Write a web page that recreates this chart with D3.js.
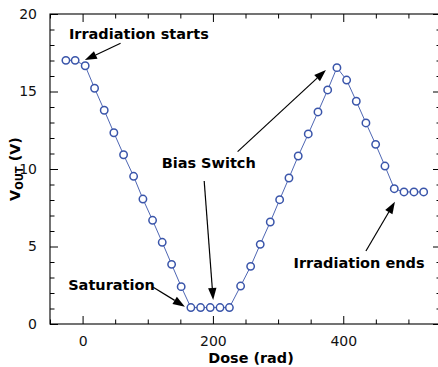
<!DOCTYPE html>
<html><head><meta charset="utf-8">
<script src="https://cdn.jsdelivr.net/npm/d3@7"></script>
<style>body{margin:0;background:#fff} svg{display:block}</style>
</head><body><svg id="c" width="438" height="367"></svg>
<script>
// ---- data ----
const doses = [-25.6, -11.4, 4.0, 18.4, 33.2, 48.0, 62.9, 78.3, 92.6, 107.4,
  122.2, 136.6, 151.3, 166.2, 181.1, 195.9, 210.9, 225.3, 242.5, 257.9,
  272.6, 288.0, 302.4, 316.7, 330.9, 346.3, 361.2, 376.1, 390.3, 405.2,
  420.0, 434.8, 449.7, 464.0, 478.3, 493.2, 508.5, 523.4];
const vout = [17.01, 17.01, 16.66, 15.21, 13.79, 12.34, 10.92, 9.53, 8.06, 6.69,
  5.27, 3.85, 2.41, 1.06, 1.06, 1.06, 1.06, 1.06, 2.45, 3.72,
  5.14, 6.58, 8.02, 9.42, 10.84, 12.26, 13.68, 15.10, 16.54, 15.74,
  14.37, 12.97, 11.59, 10.19, 8.73, 8.52, 8.52, 8.52];
const xMajorTicks = [0, 200, 400];
const xMinorTicks = [-50, 50, 100, 150, 250, 300, 350, 450, 500, 550];
const yMajorTicks = [0, 5, 10, 15, 20];
const yMinorTicks = [1,2,3,4,6,7,8,9,11,12,13,14,16,17,18,19];
const xDomain = [-50, 550];
const yDomain = [0, 20];
const xLabel = "Dose (rad)";
// annotations in data coordinates: text anchor (left, baseline), arrows from -> to
const annotations = [
  {text: "Irradiation starts", at: [-21.0, 18.37], arrows: [[[58.3, 18.11], [3.5, 17.03]]]},
  {text: "Bias Switch", at: [121.3, 10.05], arrows: [[[186.6, 9.23], [200.4, 1.55]], [[237.9, 11.12], [373.4, 16.39]]]},
  {text: "Saturation", at: [-22.1, 2.19], arrows: [[[108.4, 2.37], [157.0, 1.12]]]},
  {text: "Irradiation ends", at: [323.8, 3.59], arrows: [[[434.8, 4.71], [479.3, 7.89]]]}
];

// ---- drawing ----
const svg = d3.select("#c");
const L = 50, R = 441, T = 14, B = 324;
const x = d3.scaleLinear().domain(xDomain).range([L, R]);
const y = d3.scaleLinear().domain(yDomain).range([B, T]);
const font = "'DejaVu Sans', sans-serif";
const blue = "#3a55aa";

// data line and markers
const pts = doses.map((d, i) => [d, vout[i]]);
svg.append("path")
  .attr("d", d3.line().x(d => x(d[0])).y(d => y(d[1]))(pts))
  .attr("fill", "none").attr("stroke", blue).attr("stroke-width", 0.9);
svg.append("g").selectAll("circle").data(pts).join("circle")
  .attr("cx", d => x(d[0])).attr("cy", d => y(d[1])).attr("r", 3.7)
  .attr("fill", "#fff").attr("stroke", blue).attr("stroke-width", 1.5);

// axes (ticks inward)
function axisG(axis, tx, ty) {
  const g = svg.append("g").attr("transform", `translate(${tx},${ty})`).call(axis);
  g.select(".domain").remove();
  g.selectAll("line").attr("stroke", "#000").attr("stroke-width", 1);
  g.selectAll("text").attr("font-family", font).attr("font-size", 14).attr("fill", "#111");
  return g;
}
// bottom
axisG(d3.axisBottom(x).tickValues(xMajorTicks).tickSize(-8).tickPadding(12).tickFormat(d3.format("d")), 0, B);
axisG(d3.axisBottom(x).tickValues(xMinorTicks).tickSize(-4.5).tickFormat(""), 0, B);
// top
axisG(d3.axisTop(x).tickValues(xMajorTicks).tickSize(-8).tickFormat(""), 0, T);
axisG(d3.axisTop(x).tickValues(xMinorTicks).tickSize(-4.5).tickFormat(""), 0, T);
// left
axisG(d3.axisLeft(y).tickValues(yMajorTicks).tickSize(-8).tickPadding(13).tickFormat(d3.format("d")), L, 0);
axisG(d3.axisLeft(y).tickValues(yMinorTicks).tickSize(-4.5).tickFormat(""), L, 0);
// right
axisG(d3.axisRight(y).tickValues(yMajorTicks).tickSize(-8).tickFormat(""), R, 0);
axisG(d3.axisRight(y).tickValues(yMinorTicks).tickSize(-4.5).tickFormat(""), R, 0);

// frame
svg.append("rect").attr("x", L).attr("y", T).attr("width", R - L).attr("height", B - T)
  .attr("fill", "none").attr("stroke", "#000").attr("stroke-width", 1.1);

// axis labels
svg.append("text").attr("x", 251).attr("y", 363).attr("text-anchor", "middle")
  .attr("font-family", font).attr("font-size", 14.4).attr("font-weight", "bold").text(xLabel);
const yl = svg.append("text").attr("transform", `translate(20,${(T + B) / 2}) rotate(-90)`)
  .attr("text-anchor", "middle").attr("font-family", font).attr("font-size", 14.4).attr("font-weight", "bold");
yl.append("tspan").text("V");
yl.append("tspan").attr("font-size", 10).attr("dy", 3).text("OUT");
yl.append("tspan").attr("dy", -3).text(" (V)");

// annotations
const ag = svg.append("g");
annotations.forEach(a => {
  ag.append("text").attr("x", x(a.at[0])).attr("y", y(a.at[1]))
    .attr("font-family", font).attr("font-size", 14.5).attr("font-weight", "bold").attr("fill", "#000")
    .text(a.text);
  a.arrows.forEach(([f, t]) => {
    const x1 = x(f[0]), y1 = y(f[1]), x2 = x(t[0]), y2 = y(t[1]);
    const dx = x2 - x1, dy = y2 - y1, len = Math.hypot(dx, dy);
    const ux = dx / len, uy = dy / len, hl = 12, hw = 4.2;
    const bx = x2 - ux * hl, by = y2 - uy * hl;
    ag.append("line").attr("x1", x1).attr("y1", y1).attr("x2", bx).attr("y2", by)
      .attr("stroke", "#000").attr("stroke-width", 1.2);
    ag.append("path")
      .attr("d", `M${x2},${y2}L${bx - uy * hw},${by + ux * hw}L${bx + uy * hw},${by - ux * hw}Z`)
      .attr("fill", "#000");
  });
});
</script>
</body></html>
